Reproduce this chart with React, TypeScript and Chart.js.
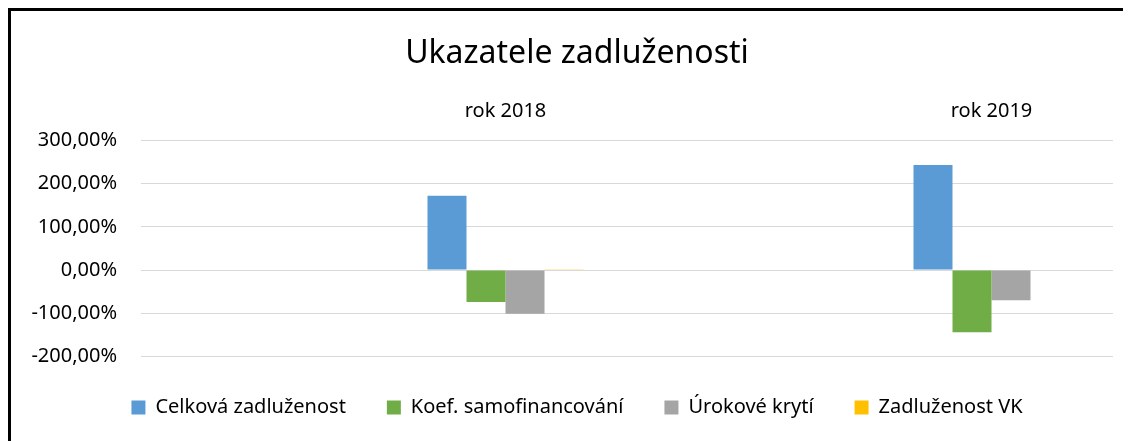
import React, { useEffect, useRef } from "react";
import { Chart, registerables } from "chart.js";

Chart.register(...registerables);

const titleText = "Ukazatele zadluženosti";
const categories = ["", "rok 2018", "", "rok 2019"];
const seriesNames = ["Celková zadluženost", "Koef. samofinancování", "Úrokové krytí", "Zadluženost VK"];
const celkovaZadluzenost = [null, 172, null, 243];
const koefSamofinancovani = [null, -74, null, -144];
const urokoveKryti = [null, -101, null, -70];
const zadluzenostVK = [null, 0.5, null, 0];
const seriesColors = ["#5B9BD5", "#70AD47", "#A5A5A5", "#FFC000"];
const yMin = -200;
const yMax = 300;
const yStep = 100;

const FONT = "'Noto Sans', 'DejaVu Sans', sans-serif";

export default function App() {
  const ref = useRef<HTMLCanvasElement>(null);

  useEffect(() => {
    const seriesValues = [celkovaZadluzenost, koefSamofinancovani, urokoveKryti, zadluzenostVK];
    const chart = new Chart(ref.current as HTMLCanvasElement, {
      type: "bar",
      data: {
        labels: categories,
        datasets: seriesNames.map((name, i) => ({
          label: name,
          data: seriesValues[i],
          backgroundColor: seriesColors[i],
          borderWidth: 0,
          barPercentage: 1,
          categoryPercentage: 0.642,
          yAxisID: "y",
        })),
      },
      options: {
        responsive: false,
        animation: false,
        layout: { padding: { left: 9, right: 17, top: 0, bottom: 18.5 } },
        scales: {
          x: {
            type: "category",
            position: "top",
            offset: true,
            grid: { display: false, drawTicks: false },
            border: { display: false },
            ticks: {
              font: { family: FONT, size: 20 },
              color: "#000",
              padding: 17,
              maxRotation: 0,
              autoSkip: false,
            },
            afterFit: (s: any) => {
              s.height = 43;
            },
          },
          y: {
            position: "left",
            min: yMin,
            max: yMax,
            grid: { color: "#d9d9d9", lineWidth: 1, drawTicks: false },
            border: { display: false },
            ticks: {
              stepSize: yStep,
              font: { family: FONT, size: 20 },
              color: "#000",
              padding: 24,
              callback: (v: any) => Number(v).toFixed(2).replace(".", ",") + "%",
            },
            afterFit: (s: any) => {
              s.width = 121;
            },
          },
          yRight: {
            position: "right",
            min: yMin,
            max: yMax,
            grid: { display: false, drawTicks: false },
            border: { display: false },
            ticks: { display: false },
            afterFit: (s: any) => {
              s.width = 21;
            },
          },
        },
        plugins: {
          title: {
            display: true,
            text: titleText,
            font: { family: FONT, size: 32, weight: "normal" },
            color: "#000",
            padding: { top: 24, bottom: 24 },
          },
          legend: {
            position: "bottom",
            labels: {
              boxWidth: 14,
              boxHeight: 14,
              padding: 41,
              font: { family: FONT, size: 20 },
              color: "#000",
            },
          },
          tooltip: { enabled: false },
        },
      },
    });
    return () => chart.destroy();
  }, []);

  return (
    <div style={{ width: 1123, height: 433, overflow: "hidden" }}>
      <div style={{ border: "3px solid #000", width: 1140, height: 435 }}>
        <canvas ref={ref} width={1140} height={435} style={{ display: "block" }} />
      </div>
    </div>
  );
}
